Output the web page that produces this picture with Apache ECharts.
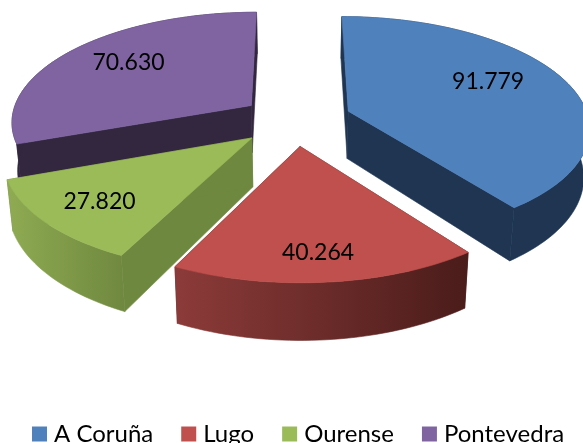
<!DOCTYPE html>
<html>
<head>
<meta charset="utf-8">
<style>html,body{margin:0;padding:0;background:#fff}#c{width:583px;height:443px}</style>
<script src="https://cdn.jsdelivr.net/npm/echarts@6/dist/echarts.min.js"></script>
</head>
<body>
<div id="c"></div>
<script>
var categories = ['A Coruña', 'Lugo', 'Ourense', 'Pontevedra'];
var values = [91779, 40264, 27820, 70630];
var topColors = ['#4F81BD', '#C0504D', '#9BBB59', '#8064A2'];
var cutColors = ['#1F3552', '#4C1D1B', '#6F883F', '#33273F'];
var rimFrom = ['#1F3552', '#8C3B39', '#8FAB52', '#33273F'];
var rimTo = ['#1F3552', '#4A1C1A', '#6F883F', '#33273F'];
var drawOrder = [2, 4, 3, 1];
var labelRadius = [0.60, 0.80, 0.66, 0.58];
var labelNudgeX = [9, -3, -21, -17];
var labelNudgeY = [-10, 1, 10, -9];
var sliceNudgeU = [0.01, 0, -0.008, 0];
var sliceNudgeV = [0.02, 0, 0, 0.015];

// projection of the tilted pie
var view = { cx: 295, cy: 121, r: 241, tilt: 110, persp: 0.137, depth: 48, bottom: 0.98, explode: 0.225 };
var total = values.reduce(function (a, b) { return a + b; }, 0);

function startAngle(i) {
  var sum = 0;
  for (var k = 0; k < i; k++) sum += values[k];
  return sum / total * Math.PI * 2;
}
function project(u, v, low) {
  var s = 1 / (1 + view.persp * v);
  var b = low ? view.bottom : 1;
  return [
    view.cx + view.r * u * s * b,
    view.cy - view.tilt * v * s + (low ? view.depth * s : 0)
  ];
}
function renderSlice(i) {
  var a0 = startAngle(i), a1 = startAngle(i + 1), mid = (a0 + a1) / 2;
  var ox = Math.sin(mid) * view.explode + sliceNudgeU[i], oy = Math.cos(mid) * view.explode + sliceNudgeV[i];
  function at(a, rad, low) { return project(ox + Math.sin(a) * rad, oy + Math.cos(a) * rad, low); }
  var topArc = [], lowArc = [];
  var steps = Math.ceil((a1 - a0) / (Math.PI / 120));
  for (var n = 0; n <= steps; n++) {
    var a = a0 + (a1 - a0) * n / steps;
    topArc.push(at(a, 1, false));
    lowArc.push(at(a, 1, true));
  }
  function poly(points, fill, stroke) {
    return { type: 'polygon', shape: { points: points }, style: { fill: fill, stroke: stroke || null, lineWidth: stroke ? 0.6 : 0 } };
  }
  var apexTop = at(a0, 0, false), apexLow = at(a0, 0, true);
  var rim = rimFrom[i] === rimTo[i] ? rimFrom[i] : new echarts.graphic.LinearGradient(0, 0, 1, 0, [
    { offset: 0, color: rimFrom[i] }, { offset: 1, color: rimTo[i] }
  ]);
  var lp = at(mid, labelRadius[i], false);
  return {
    type: 'group',
    children: [
      poly([apexTop, topArc[0], lowArc[0], apexLow], cutColors[i], cutColors[i]),
      poly([apexTop, topArc[steps], lowArc[steps], apexLow], cutColors[i], cutColors[i]),
      poly(topArc.concat(lowArc.slice().reverse()), rim, rim),
      poly([apexTop].concat(topArc), topColors[i], topColors[i]),
      { type: 'text', x: lp[0] + labelNudgeX[i], y: lp[1] + labelNudgeY[i], style: {
          text: (values[i] / 1000).toFixed(3), fill: '#000',
          font: '23px Lato', align: 'center', verticalAlign: 'middle' } }
    ]
  };
}
var chart = echarts.init(document.getElementById('c'), null, { renderer: 'canvas' });
chart.setOption({
  animation: false,
  backgroundColor: '#fff',
  legend: {
    data: categories, left: 32, top: 422, itemGap: 28, itemWidth: 15, itemHeight: 15,
    icon: 'rect', selectedMode: false, padding: 0,
    textStyle: { fontFamily: 'Lato', fontSize: 24, color: '#000', padding: [0, 0, 0, 2] }
  },
  series: categories.map(function (name, i) {
    return {
      type: 'custom', name: name, coordinateSystem: 'none', z: drawOrder[i],
      itemStyle: { color: topColors[i] }, silent: true,
      data: [values[i]],
      renderItem: function () { return renderSlice(i); }
    };
  })
});
</script>
</body>
</html>
